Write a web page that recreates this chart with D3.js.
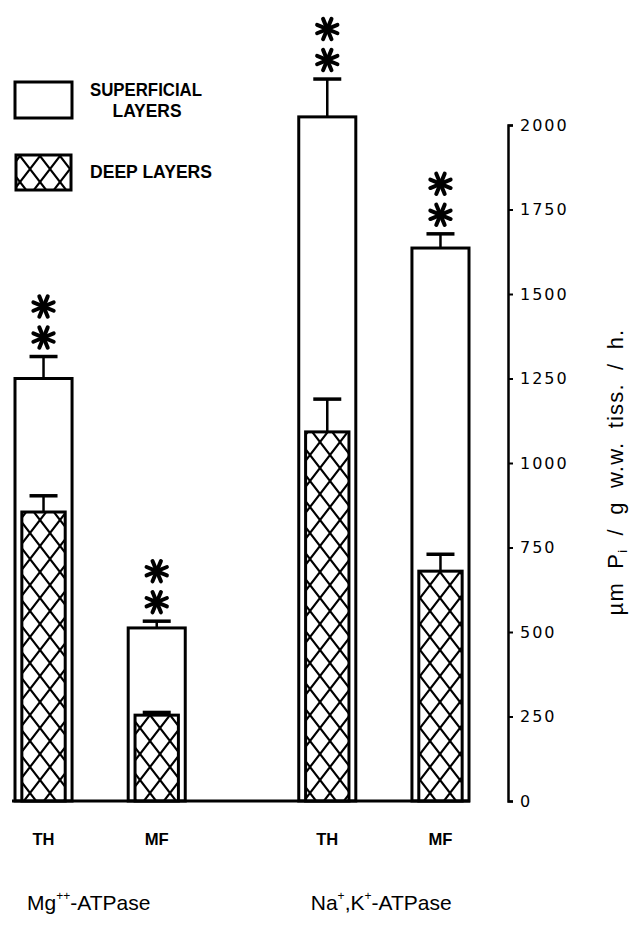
<!DOCTYPE html>
<html><head><meta charset="utf-8">
<script src="https://cdn.jsdelivr.net/npm/d3@7"></script>
<style>body{margin:0;background:#fff}</style>
</head><body><svg id="c" width="635" height="927"></svg>
<script>
// ---- data ----
const groups = ["Mg", "NaK"];
const tissues = ["TH", "MF"];
const superficial = [1250, 512, 2024, 1636];
const superficialErr = [65, 20, 112, 42];
const deep = [855, 254, 1092, 680];
const deepErr = [48, 8, 97, 50];
const significant = [true, true, true, true];
const yTicks = [0, 250, 500, 750, 1000, 1250, 1500, 1750, 2000];

const rows = superficial.map((v, i) => ({
  group: groups[Math.floor(i / 2)], tissue: tissues[i % 2],
  sup: v, supErr: superficialErr[i], deep: deep[i], deepErr: deepErr[i], sig: significant[i]
}));

const svg = d3.select("#c");
const defs = svg.append("defs");
const pat = defs.append("pattern").attr("id", "hatch").attr("patternUnits", "userSpaceOnUse")
  .attr("width", 20).attr("height", 26);
pat.append("rect").attr("width", 20).attr("height", 26).attr("fill", "#fff");
pat.append("path").attr("d", "M-5,-6.5L25,32.5M25,-6.5L-5,32.5")
  .attr("stroke", "#000").attr("stroke-width", 2.2).attr("fill", "none");

const x0 = d3.scaleBand().domain(groups).range([15, 469]).paddingInner(0.4);
const x1 = d3.scaleBand().domain(tissues).range([0, x0.bandwidth()]).paddingInner(0.496);
const y = d3.scaleLinear().domain([0, 2000]).range([801, 125]);

const bw = x1.bandwidth();
const dw = bw * 0.76;
const bx = d => x0(d.group) + x1(d.tissue);
const cx = d => bx(d) + bw / 2;

const g = svg.append("g");
// superficial bars
g.selectAll("rect.sup").data(rows).join("rect").attr("class", "sup")
  .attr("x", bx).attr("y", d => y(d.sup)).attr("width", bw).attr("height", d => y(0) - y(d.sup))
  .attr("fill", "#fff").attr("stroke", "#000").attr("stroke-width", 3);
// superficial error bars
const capW = 28;
g.selectAll("line.supErr").data(rows).join("line")
  .attr("x1", cx).attr("x2", cx).attr("y1", d => y(d.sup)).attr("y2", d => y(d.sup + d.supErr))
  .attr("stroke", "#000").attr("stroke-width", 2.5);
g.selectAll("line.supCap").data(rows).join("line")
  .attr("x1", d => cx(d) - capW / 2).attr("x2", d => cx(d) + capW / 2)
  .attr("y1", d => y(d.sup + d.supErr)).attr("y2", d => y(d.sup + d.supErr))
  .attr("stroke", "#000").attr("stroke-width", 3.5);
// deep bars
g.selectAll("rect.deep").data(rows).join("rect").attr("class", "deep")
  .attr("x", d => cx(d) - dw / 2).attr("y", d => y(d.deep)).attr("width", dw).attr("height", d => y(0) - y(d.deep))
  .attr("fill", "url(#hatch)").attr("stroke", "#000").attr("stroke-width", 3);
g.selectAll("line.deepErr").data(rows).join("line")
  .attr("x1", cx).attr("x2", cx).attr("y1", d => y(d.deep)).attr("y2", d => y(d.deep + d.deepErr))
  .attr("stroke", "#000").attr("stroke-width", 2.5);
g.selectAll("line.deepCap").data(rows).join("line")
  .attr("x1", d => cx(d) - capW / 2).attr("x2", d => cx(d) + capW / 2)
  .attr("y1", d => y(d.deep + d.deepErr)).attr("y2", d => y(d.deep + d.deepErr))
  .attr("stroke", "#000").attr("stroke-width", 3.5);

// asterisks
function asterisk(sel, x, yy, r) {
  const a = sel.append("g").attr("transform", `translate(${x},${yy})`);
  [22.5, 67.5, 112.5, 157.5].forEach(ang => {
    const t = ang * Math.PI / 180;
    a.append("line").attr("x1", -r * Math.cos(t)).attr("y1", -r * Math.sin(t))
      .attr("x2", r * Math.cos(t)).attr("y2", r * Math.sin(t))
      .attr("stroke", "#000").attr("stroke-width", 4).attr("stroke-linecap", "round");
  });
  a.append("circle").attr("r", 3.5).attr("fill", "#000");
}
rows.filter(d => d.sig).forEach(d => {
  const top = y(d.sup + d.supErr);
  asterisk(g, cx(d), top - 19, 11);
  asterisk(g, cx(d), top - 50, 11);
});

// baseline
g.append("line").attr("x1", 12).attr("x2", 470).attr("y1", y(0)).attr("y2", y(0))
  .attr("stroke", "#000").attr("stroke-width", 3);

// axis
const ax = svg.append("g").attr("transform", "translate(508,0)")
  .call(d3.axisRight(y).tickValues(yTicks).tickFormat(d3.format("d"))
    .tickSize(5).tickSizeOuter(5).tickPadding(7));
ax.select(".domain").attr("stroke-width", 2.5);
ax.selectAll(".tick line").attr("stroke-width", 2);
ax.selectAll(".tick text").attr("font-family", "DejaVu Sans, sans-serif").attr("font-size", 16)
  .attr("letter-spacing", 2).attr("fill", "#000");

// axis title
const yt = svg.append("text").attr("transform", "translate(623,472) rotate(-90)")
  .attr("text-anchor", "middle").attr("font-family", "Liberation Sans, Arial, sans-serif")
  .attr("font-size", 22).attr("fill", "#000").attr("letter-spacing", 1.2).attr("word-spacing", 6);
yt.append("tspan").text("µm P");
yt.append("tspan").attr("font-size", 13).attr("dy", 4).text("i");
yt.append("tspan").attr("dy", -4).text(" / g w.w. tiss. / h.");

// category labels
svg.selectAll("text.cat").data(rows).join("text").attr("class", "cat")
  .attr("x", cx).attr("y", 845).attr("text-anchor", "middle")
  .attr("font-family", "Liberation Sans, Arial, sans-serif").attr("font-weight", "bold")
  .attr("font-size", 17).attr("textLength", d => d.tissue === "TH" ? 22 : 24)
  .attr("lengthAdjust", "spacingAndGlyphs").text(d => d.tissue);

// group labels
const gl = svg.selectAll("text.grp").data(groups).join("text").attr("class", "grp")
  .attr("x", d => x0(d) + 12).attr("y", 910)
  .attr("font-family", "Liberation Sans, Arial, sans-serif").attr("font-size", 21).attr("fill", "#000");
gl.each(function (d) {
  const t = d3.select(this);
  if (d === "Mg") {
    t.append("tspan").text("Mg");
    t.append("tspan").attr("font-size", 12).attr("dy", -10).text("++");
    t.append("tspan").attr("dy", 10).text("-ATPase");
  } else {
    t.append("tspan").text("Na");
    t.append("tspan").attr("font-size", 12).attr("dy", -10).text("+");
    t.append("tspan").attr("dy", 10).text(",K");
    t.append("tspan").attr("font-size", 12).attr("dy", -10).text("+");
    t.append("tspan").attr("dy", 10).text("-ATPase");
  }
});

// legend
const lg = svg.append("g");
lg.append("rect").attr("x", 15).attr("y", 82).attr("width", 57).attr("height", 36)
  .attr("fill", "#fff").attr("stroke", "#000").attr("stroke-width", 3);
lg.append("rect").attr("x", 16).attr("y", 155).attr("width", 55).attr("height", 35)
  .attr("fill", "url(#hatch)").attr("stroke", "#000").attr("stroke-width", 3);
const lt = [
  { t: "SUPERFICIAL", x: 146, y: 96, w: 112 },
  { t: "LAYERS", x: 147, y: 117, w: 69 },
  { t: "DEEP LAYERS", x: 151, y: 178, w: 122 }
];
lg.selectAll("text").data(lt).join("text").attr("x", d => d.x).attr("y", d => d.y)
  .attr("text-anchor", "middle").attr("font-family", "Liberation Sans, Arial, sans-serif")
  .attr("font-weight", "bold").attr("font-size", 18).attr("textLength", d => d.w)
  .attr("lengthAdjust", "spacingAndGlyphs").text(d => d.t);
</script></body></html>
